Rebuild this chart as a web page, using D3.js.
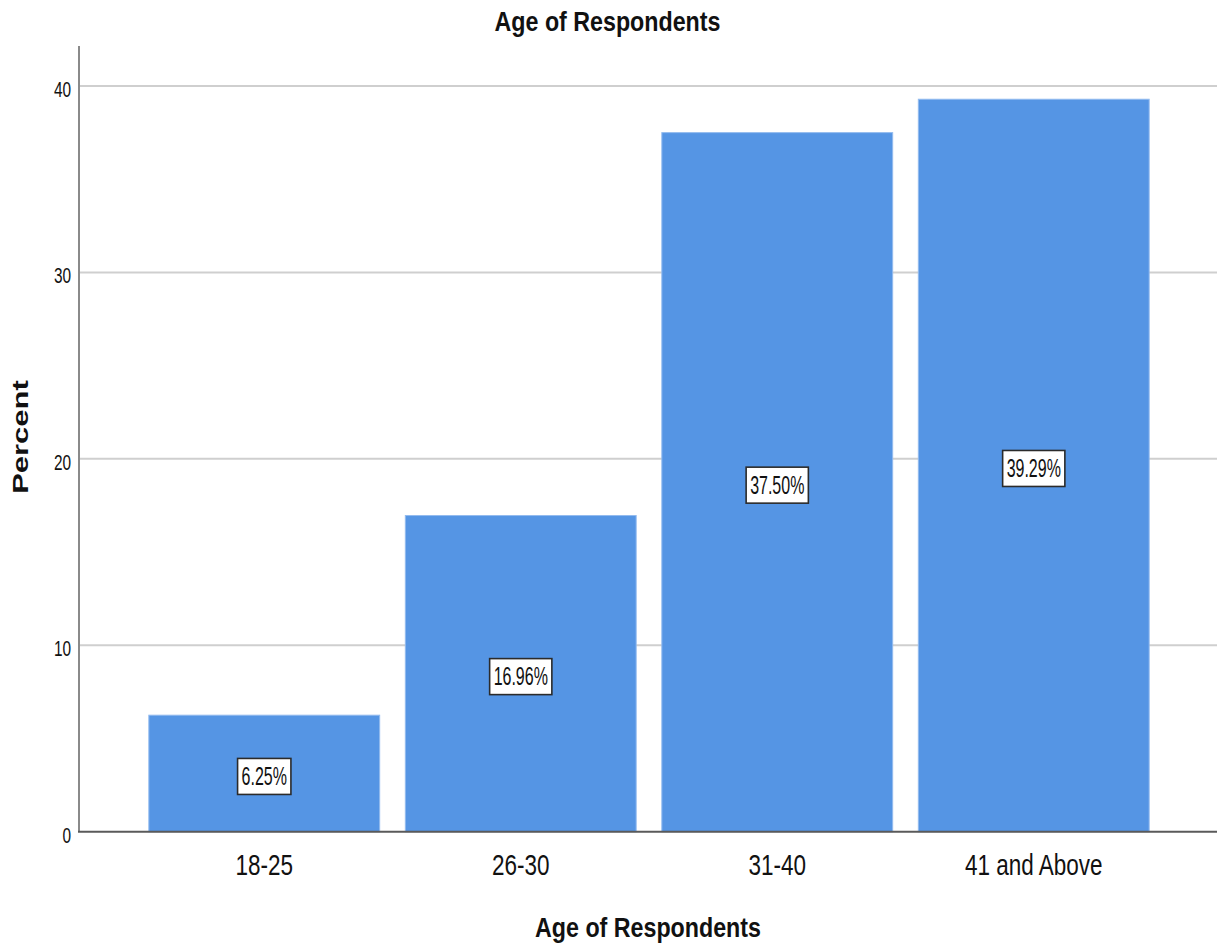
<!DOCTYPE html>
<html>
<head>
<meta charset="utf-8">
<script src="https://cdn.jsdelivr.net/npm/d3@7"></script>
<style>
  html, body { margin: 0; padding: 0; background: #ffffff; }
  svg { display: block; font-family: "Liberation Sans", Arial, sans-serif; }
</style>
</head>
<body>
<svg id="chart" width="1217" height="947"></svg>
<script>
// Age distribution of survey respondents (percent)
const categories = ["18-25", "26-30", "31-40", "41 and Above"];
const percents = [6.25, 16.96, 37.50, 39.29];
const yTicks = [0, 10, 20, 30, 40];
const chartTitle = "Age of Respondents";
const xTitle = "Age of Respondents";
const yTitle = "Percent";

const W = 1217, H = 947;
const svg = d3.select("#chart");

const x = d3.scaleBand()
  .domain(categories)
  .range([136, 1162])
  .paddingInner(0.1)
  .paddingOuter(0.05);

const y = d3.scaleLinear()
  .domain([0, 40])
  .range([831.7, 86]);

const axisX = 79;

// Horizontally condensed text helper: font size sets height, sx narrows glyphs
function condText(g, str, px, py, size, sx, anchor, weight) {
  return g.append("text")
    .attr("transform", `translate(${px},${py}) scale(${sx},1)`)
    .attr("text-anchor", anchor)
    .attr("font-size", size)
    .attr("font-weight", weight || "normal")
    .attr("fill", "#111")
    .text(str);
}

// Gridlines
svg.append("g")
  .selectAll("line")
  .data(yTicks.filter(d => d > 0))
  .join("line")
  .attr("x1", axisX).attr("x2", W)
  .attr("y1", d => y(d)).attr("y2", d => y(d))
  .attr("stroke", "#cfcfcf")
  .attr("stroke-width", 2);

// Bars
svg.append("g")
  .selectAll("rect")
  .data(categories)
  .join("rect")
  .attr("x", d => x(d))
  .attr("width", x.bandwidth())
  .attr("y", (d, i) => y(percents[i]))
  .attr("height", (d, i) => y(0) - y(percents[i]))
  .attr("fill", "#5595e4")
  .attr("stroke", "#93bbef")
  .attr("stroke-width", 1);

// Y axis line
svg.append("line")
  .attr("x1", axisX).attr("x2", axisX)
  .attr("y1", 46).attr("y2", y(0))
  .attr("stroke", "#8a8a8a")
  .attr("stroke-width", 2);

// Baseline
svg.append("line")
  .attr("x1", axisX - 1).attr("x2", W)
  .attr("y1", y(0)).attr("y2", y(0))
  .attr("stroke", "#5a5a5a")
  .attr("stroke-width", 2);

// Y tick labels
const yTickG = svg.append("g");
yTicks.forEach(t => {
  condText(yTickG, String(t), 71, y(t) + 11, 22, 0.7, "end");
});

// X tick labels
const xTickG = svg.append("g");
categories.forEach(c => {
  condText(xTickG, c, x(c) + x.bandwidth() / 2, 875, 30, 0.75, "middle");
});

// Value labels in boxed tags
const labG = svg.append("g");
categories.forEach((c, i) => {
  const cx = x(c) + x.bandwidth() / 2;
  const cy = (y(percents[i]) + y(0)) / 2 + 3;
  const g = labG.append("g");
  const rect = g.append("rect");
  const t = condText(g, percents[i].toFixed(2) + "%", cx, cy + 8.5, 25, 0.64, "middle");
  const bb = t.node().getBBox();
  const w = bb.width * 0.64 + 8;
  const h = 36;
  rect.attr("x", cx - w / 2).attr("y", cy - h / 2)
    .attr("width", w).attr("height", h)
    .attr("fill", "#ffffff")
    .attr("stroke", "#2b2b2b")
    .attr("stroke-width", 1.6);
});

// Titles
condText(svg, chartTitle, W / 2 - 1, 31, 28, 0.83, "middle", "bold");
condText(svg, xTitle, (axisX + W) / 2, 937, 28, 0.83, "middle", "bold");

svg.append("text")
  .attr("transform", "translate(28,437) rotate(-90) scale(1,0.72)")
  .attr("text-anchor", "middle")
  .attr("font-size", 31)
  .attr("font-weight", "bold")
  .attr("fill", "#111")
  .text(yTitle);
</script>
</body>
</html>
